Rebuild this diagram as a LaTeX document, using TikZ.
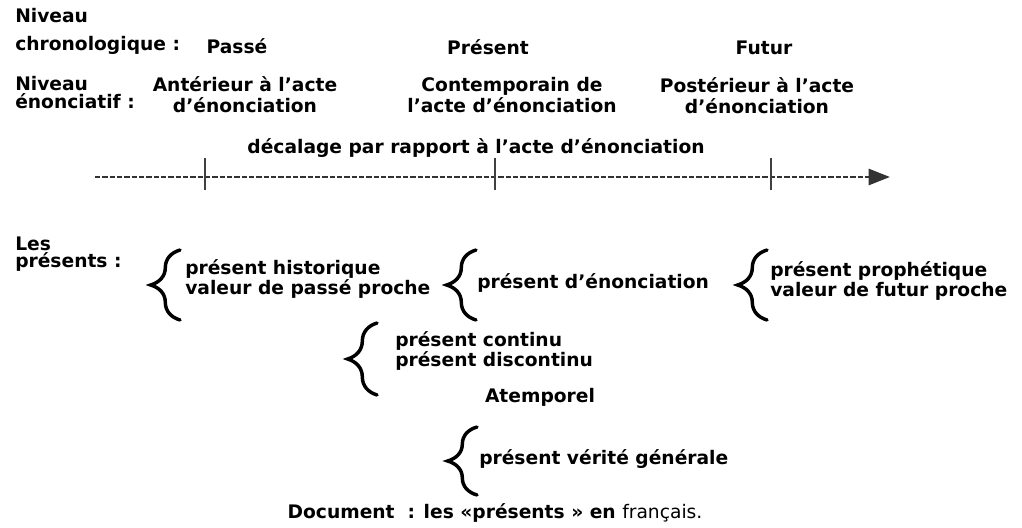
\documentclass[tikz,border=0pt]{standalone}
\usepackage{fontspec}
\setmainfont{DejaVu Sans}
\usetikzlibrary{arrows.meta,decorations.pathreplacing}
\begin{document}
\begin{tikzpicture}[x=0.75pt,y=-0.75pt,
    txt/.style={inner sep=0pt,font=\fontsize{14}{15.5}\selectfont\bfseries},
    brc/.style={line width=2.6pt,line cap=round,decorate,decoration={brace,amplitude=22pt}}]
    \useasboundingbox (0,0) rectangle (1022,528);
    %% niveau chronologique
    \node[txt,anchor=west,align=left] (nivchrono) at (15,31.5) {Niveau\\[5pt]chronologique :};
    \node[txt] (passe) at (237,46) {Passé};
    \node[txt] (present) at (488,47) {Présent};
    \node[txt] (futur) at (764,48) {Futur};
    %% niveau enonciatif
    \node[txt,anchor=west,align=left] (nivenon) at (15,93) {Niveau\\[-2pt]énonciatif :};
    \node[txt,align=center] (anter) at (245,95) {Antérieur à l'acte\\d'énonciation};
    \node[txt,align=center] (contemp) at (512,95) {Contemporain de\\l'acte d'énonciation};
    \node[txt,align=center] (poster) at (757,96) {Postérieur à l'acte\\d'énonciation};
    %% axe
    \node[txt] (decal) at (476,148) {décalage par rapport à l'acte d'énonciation};
    \coordinate (axstart) at (95,177);
    \coordinate (axend) at (890,177);
    \draw[line width=2pt,black!80,dash pattern=on 4pt off 1.5pt,
      -{Triangle[length=16pt,width=12pt]}] (axstart) -- (axend);
    \foreach \x in {205,495,771}
      \draw[line width=2.2pt,black!75] (\x,158) -- (\x,190);
    %% les presents
    \node[txt,anchor=west,align=left] (les) at (15,254) {Les\\[-3pt]présents :};
    \draw[brc] (180,320) -- (180,250);
    \node[txt,anchor=west,align=left] (histo) at (185,279) {présent historique\\valeur de passé proche};
    \draw[brc] (476,320) -- (476,250);
    \node[txt,anchor=west] (enonc) at (477,283) {présent d'énonciation};
    \draw[brc] (767,320) -- (767,250);
    \node[txt,anchor=west,align=left] (proph) at (770,281) {présent prophétique\\valeur de futur proche};
    \draw[brc] (377,395) -- (377,323);
    \node[txt,anchor=west,align=left] (contin) at (395,351) {présent continu\\présent discontinu};
    \node[txt] (atemp) at (540,397) {Atemporel};
    \draw[brc] (477,495) -- (477,427);
    \node[txt,anchor=west] (verite) at (479,459) {présent vérité générale};
    %% legende
    \node[txt] (doc) at (495,513) {Document\ \ : les «présents » en {\mdseries français.}};
\end{tikzpicture}
\end{document}
